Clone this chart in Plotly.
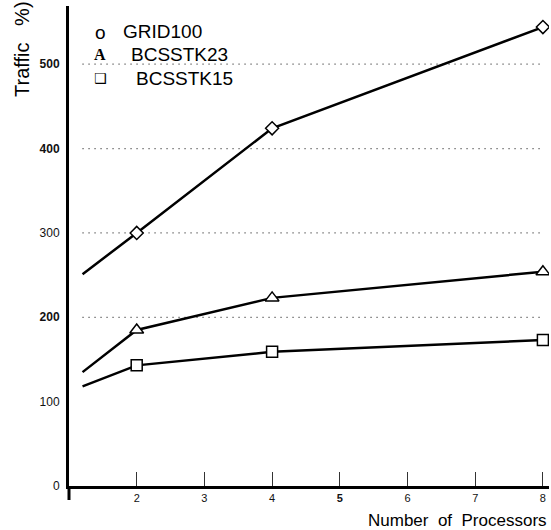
import plotly.graph_objects as go

# ---- data ----
processors = [1.2, 2, 4, 8]
grid100 = [251, 300, 424, 544]
bcsstk23 = [135, 185, 223, 254]
bcsstk15 = [118, 143, 159, 173]
series_names = ["GRID100", "BCSSTK23", "BCSSTK15"]
x_tick_vals = [2, 3, 4, 5, 6, 7, 8]
x_tick_text = ["2", "3", "4", "<b>5</b>", "6", "7", "8"]
y_tick_vals = [0, 100, 200, 300, 400, 500]
y_tick_text = ["0", "100", "<b>200</b>", "300", "<b>400</b>", "<b>500</b>"]
grid_values = [200, 300, 400, 500]

W, H = 551, 530
ML, MR, MT, MB = 69, 2, 6, 44
PW, PH = W - ML - MR, H - MT - MB

def px_x(p):
    return (p - ML) / PW

def px_y(p):
    return (H - MB - p) / PH

FONT = "Liberation Sans, Arial, sans-serif"

fig = go.Figure()

symbols = ["diamond", "triangle-up", "square"]
sizes = [10, 12, 11]
for name, vals, sym, sz in zip(series_names, [grid100, bcsstk23, bcsstk15], symbols, sizes):
    fig.add_trace(go.Scatter(x=processors, y=vals, mode="lines",
                             line=dict(color="black", width=2.5),
                             showlegend=False, hoverinfo="skip"))
    fig.add_trace(go.Scatter(x=processors[1:], y=vals[1:], mode="markers", name=name,
                             marker=dict(symbol=sym, size=sz, color="white",
                                         line=dict(color="black", width=1.5)),
                             showlegend=False))

shapes = []
for g in grid_values:
    shapes.append(dict(type="line", xref="x", yref="y", x0=processors[0], x1=processors[-1],
                       y0=g, y1=g, line=dict(color="#333", width=1.2, dash="1px,5px"), layer="below"))
# extension of the y-axis line below the x-axis
shapes.append(dict(type="line", xref="paper", yref="paper", x0=0, x1=0,
                   y0=-14 / PH, y1=0, line=dict(color="black", width=3)))

annotations = [
    dict(text="Traffic   %)", xref="paper", yref="paper", x=px_x(22), y=px_y(49),
         xanchor="center", yanchor="middle",
         textangle=-90, showarrow=False, font=dict(family=FONT, size=20, color="black")),
    dict(text="Number  of  Processors", xref="paper", yref="paper", x=1.0, y=px_y(520),
         xanchor="right", yanchor="middle", showarrow=False,
         font=dict(family=FONT, size=17, color="black")),
    # legend-like labels
    dict(text="o", xref="paper", yref="paper", x=px_x(100), y=px_y(32), showarrow=False,
         xanchor="center", yanchor="middle",
         font=dict(family=FONT, size=19, color="black")),
    dict(text="GRID100", xref="paper", yref="paper", x=px_x(121), y=px_y(31),
         xanchor="left", yanchor="middle", showarrow=False,
         font=dict(family=FONT, size=19, color="black")),
    dict(text="<b>A</b>", xref="paper", yref="paper", x=px_x(100), y=px_y(55), showarrow=False,
         xanchor="center", yanchor="middle",
         font=dict(family="Liberation Serif, serif", size=16, color="black")),
    dict(text="BCSSTK23", xref="paper", yref="paper", x=px_x(129), y=px_y(55),
         xanchor="left", yanchor="middle", showarrow=False,
         font=dict(family=FONT, size=19, color="black")),
    dict(text="❑", xref="paper", yref="paper", x=px_x(100), y=px_y(78), showarrow=False,
         xanchor="center", yanchor="middle",
         font=dict(family="DejaVu Sans", size=14, color="black")),
    dict(text="BCSSTK15", xref="paper", yref="paper", x=px_x(134), y=px_y(78),
         xanchor="left", yanchor="middle", showarrow=False,
         font=dict(family=FONT, size=19, color="black")),
]

fig.update_layout(
    width=W, height=H,
    margin=dict(l=ML, r=MR, t=MT, b=MB),
    paper_bgcolor="white", plot_bgcolor="white",
    shapes=shapes, annotations=annotations,
    xaxis=dict(range=[1, 8.09], tickvals=x_tick_vals, ticktext=x_tick_text,
               showgrid=False, zeroline=False, showline=True, linecolor="black", linewidth=3,
               ticks="inside", ticklen=14, tickwidth=1, tickcolor="#333",
               tickfont=dict(family=FONT, size=11, color="#111")),
    yaxis=dict(range=[0, 569], tickvals=y_tick_vals, ticktext=y_tick_text,
               showgrid=False, zeroline=False, showline=True, linecolor="black", linewidth=3,
               ticks="", ticklabelstandoff=4,
               tickfont=dict(family=FONT, size=12, color="#111")),
)

fig.write_html("out.html", config={"displayModeBar": False},
               post_script="document.body.style.margin='0';")
